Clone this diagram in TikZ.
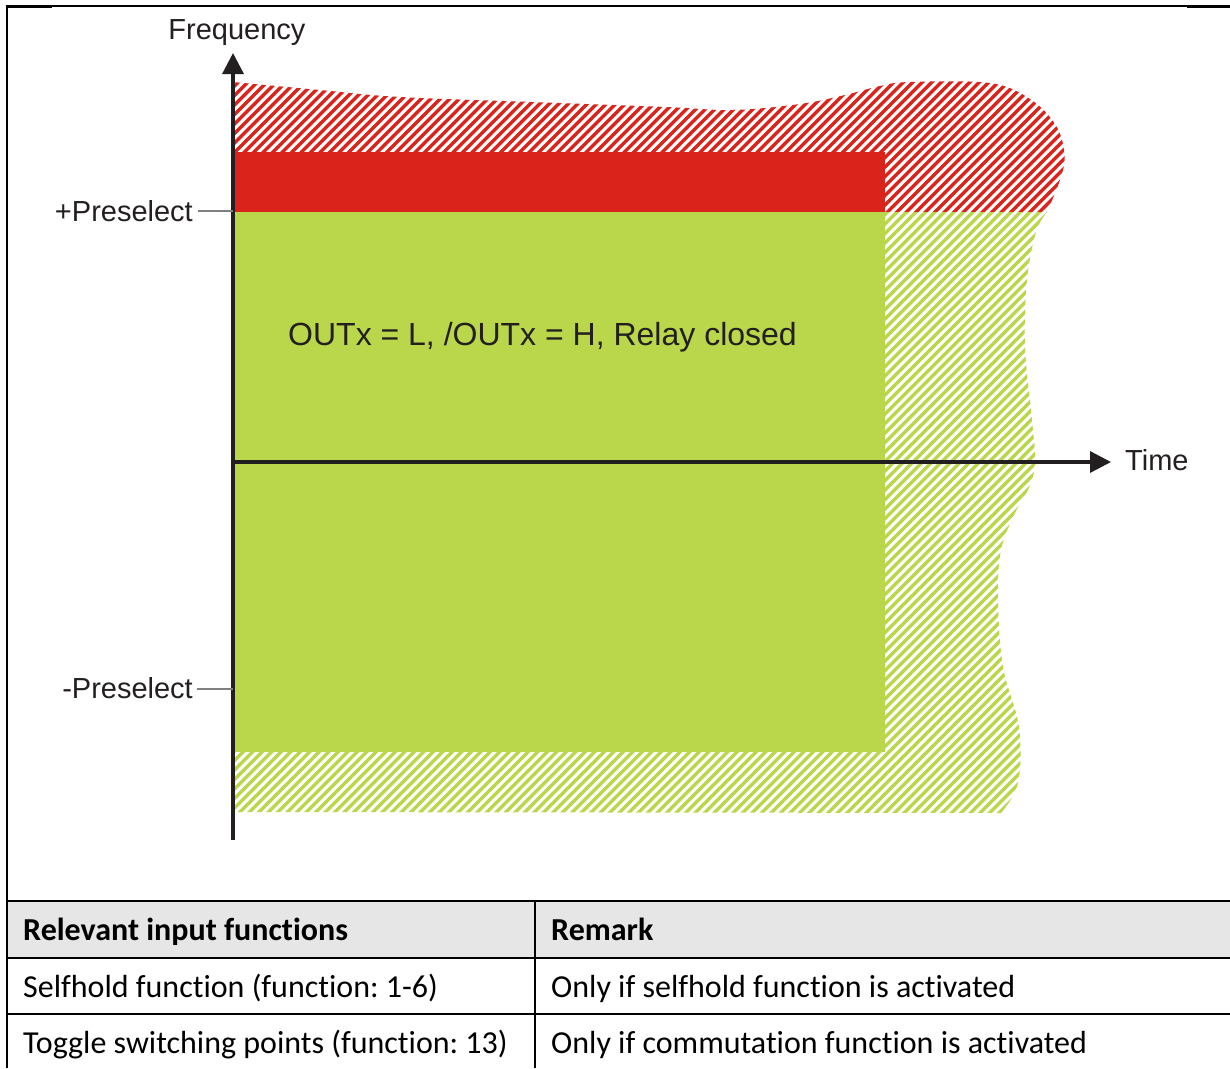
\documentclass[tikz,border=0pt]{standalone}
\usepackage{fontspec}
\setmainfont{Liberation Sans}
\newfontfamily\tabfont[Ligatures={NoCommon}]{Carlito}
\usetikzlibrary{arrows.meta}
\definecolor{redfill}{RGB}{217,35,27}
\definecolor{greenfill}{RGB}{186,214,74}
\definecolor{hdrgray}{RGB}{231,230,230}
\definecolor{txt}{RGB}{35,31,32}
\definecolor{tickgray}{RGB}{128,128,128}
\frenchspacing
\tikzset{
  axis/.style={line width=3.2pt, draw=txt, -{Triangle[length=21pt,width=21pt]}},
  tickline/.style={line width=1.3pt, draw=tickgray},
  lbl/.style={inner sep=0pt, text=txt, font=\fontsize{29}{34}\selectfont},
  biglbl/.style={inner sep=0pt, text=txt, font=\fontsize{32}{38}\selectfont},
  tabtxt/.style={inner sep=0pt, text=black, font=\tabfont\fontsize{32}{38}\selectfont},
  tabhead/.style={inner sep=0pt, text=black, font=\tabfont\bfseries\fontsize{32}{38}\selectfont},
  rule/.style={line width=2pt, draw=black},
  hatchred/.style={draw=redfill, line width=3.4pt},
  hatchgreen/.style={draw=greenfill, line width=3.4pt}
}
\begin{document}
\begin{tikzpicture}[x=1pt,y=-1pt]
\useasboundingbox (0,0) rectangle (1230,1068);
\fill[white] (0,0) rectangle (1230,1068);

% ---------- red hatched region ----------
\begin{scope}
\clip (233,212) -- plot[smooth, tension=0.6] coordinates {(233,82) (320,90) (400,97) (532,102) (666,107) (733,110) (800,104) (845,95) (880,86) (910,82) (990,83) (1030,99) (1055,124) (1064,150) (1062,174) (1047,212)} -- cycle;
\foreach \i in {-75,...,118} \draw[hatchred] (\i*9.5,900) -- ++(900,-900);
\end{scope}

% ---------- green hatched region ----------
\begin{scope}
\clip (233,212) -- plot[smooth, tension=0.6] coordinates {(1047,212) (1036,232) (1027,280) (1025,347) (1032,420) (1035,463) (1028,490) (1015,513) (1001,550) (998,600) (1003,667) (1019,727) (1018,783) (1001,813)} -- (233,812) -- cycle;
\foreach \i in {-75,...,118} \draw[hatchgreen] (\i*9.5,900) -- ++(900,-900);
\end{scope}

% ---------- solid zones ----------
\fill[redfill] (233,152) rectangle (885,212);
\fill[greenfill] (233,212) rectangle (885,752);

% ---------- axes ----------
\coordinate (ybot) at (233,840);
\coordinate (ytop) at (233,53);
\coordinate (xleft) at (233,462);
\coordinate (xright) at (1111,462);
\draw[axis] (ybot) -- (ytop);
\draw[axis] (xleft) -- (xright);

% ---------- ticks and labels ----------
\coordinate (tpA) at (198,211);
\coordinate (tpB) at (233,211);
\coordinate (tmA) at (197,689);
\coordinate (tmB) at (233,689);
\draw[tickline] (tpA) -- (tpB);
\draw[tickline] (tmA) -- (tmB);

\node[lbl, anchor=base] (freq) at (237,39) {Frequency};
\node[lbl, anchor=base west] (time) at (1125,470) {Time};
\node[lbl, anchor=base east] (pplus) at (193,221) {+Preselect};
\node[lbl, anchor=base east] (pminus) at (193,698) {-Preselect};
\node[biglbl, anchor=base west] (state) at (288,345) {OUTx = L, /OUTx = H, Relay closed};

% ---------- outer frame ----------
\coordinate (fTL) at (7,6);
\coordinate (fTR) at (1230,6);
\coordinate (fBL) at (7,1068);
\draw[line width=1.1pt] (fTL) -- (fTR);
\draw[line width=3pt] (6,6) -- (52,6);
\draw[line width=3pt] (1187,6) -- (1230,6);
\draw[line width=2pt] (7,5) -- (fBL);

% ---------- table ----------
\fill[hdrgray] (8,902) rectangle (1230,957);
\draw[rule] (7,901) -- (1230,901);
\draw[rule] (7,958) -- (1230,958);
\draw[rule] (7,1014) -- (1230,1014);
\draw[rule] (535,901) -- (535,1068);

\node[tabhead, anchor=base west] (h1) at (23,940) {Relevant input functions};
\node[tabhead, anchor=base west] (h2) at (551,940) {Remark};
\node[tabtxt, anchor=base west] (r1a) at (23,997) {Selfhold function (function: 1-6)};
\node[tabtxt, anchor=base west] (r1b) at (551,997) {Only if selfhold function is activated};
\node[tabtxt, anchor=base west] (r2a) at (23,1053) {Toggle switching points (function: 13)};
\node[tabtxt, anchor=base west] (r2b) at (551,1053) {Only if commutation function is activated};
\end{tikzpicture}
\end{document}
